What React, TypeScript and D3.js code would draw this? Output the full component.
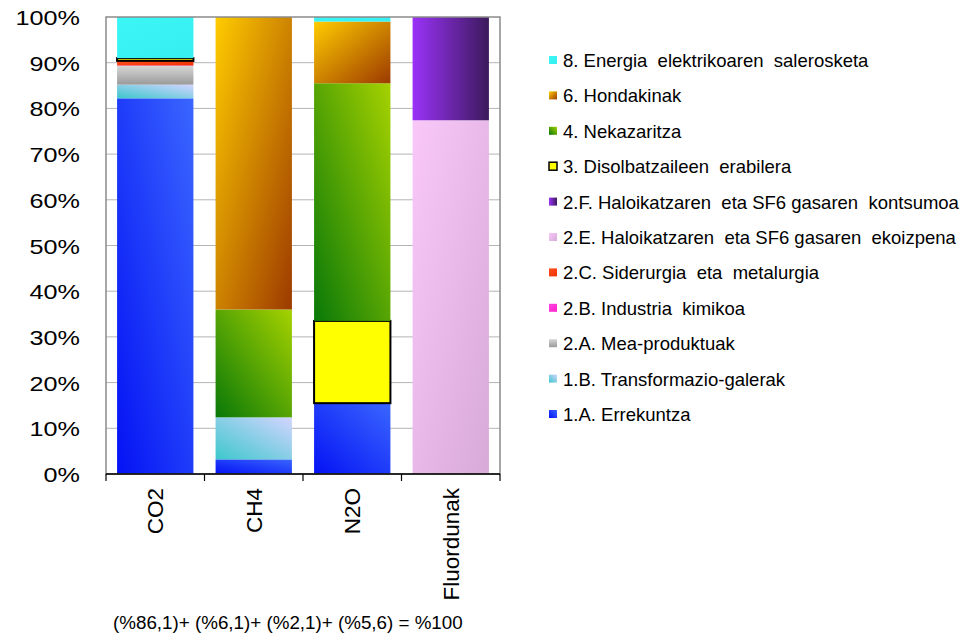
import React from "react";
import * as d3 from "d3";

const categories = ["CO2", "CH4", "N2O", "Fluordunak"];
const seriesKeys = ["1A", "1B", "2A", "2B", "2C", "2E", "2F", "3", "4", "6", "8"];
const seriesLabels = [
  "1.A. Errekuntza",
  "1.B. Transformazio-galerak",
  "2.A. Mea-produktuak",
  "2.B. Industria  kimikoa",
  "2.C. Siderurgia  eta  metalurgia",
  "2.E. Haloikatzaren  eta SF6 gasaren  ekoizpena",
  "2.F. Haloikatzaren  eta SF6 gasaren  kontsumoa",
  "3. Disolbatzaileen  erabilera",
  "4. Nekazaritza",
  "6. Hondakinak",
  "8. Energia  elektrikoaren  salerosketa",
];
// values in % per category (CO2, CH4, N2O, Fluordunak)
const v1A = [82.2, 3.2, 15.5, 0];
const v1B = [3.0, 9.2, 0, 0];
const v2A = [4.1, 0, 0, 0];
const v2B = [0.1, 0, 0, 0];
const v2C = [1.0, 0, 0, 0];
const v2E = [0, 0, 0, 77.4];
const v2F = [0, 0, 0, 22.6];
const v3 = [0.6, 0, 18.0, 0];
const v4 = [0, 23.6, 52.0, 0];
const v6 = [0, 64.0, 13.5, 0];
const v8 = [9.0, 0, 1.0, 0];
const yTicks = [0, 10, 20, 30, 40, 50, 60, 70, 80, 90, 100];
const footnote = "(%86,1)+ (%6,1)+ (%2,1)+ (%5,6) = %100";

const seriesValues = [v1A, v1B, v2A, v2B, v2C, v2E, v2F, v3, v4, v6, v8];

// gradient definitions: [x1,y1,x2,y2, colorStart, colorEnd]
const fills: Record<string, [number, number, number, number, string, string]> = {
  "1A": [0, 1, 1, 0, "#0412f4", "#3a66ff"],
  "1B": [0, 1, 1, 0, "#3cc8cc", "#d4d4ff"],
  "2A": [0, 0, 0, 1, "#d6d6d6", "#9a9a9a"],
  "2B": [0, 0, 1, 1, "#ff44e0", "#ff22cc"],
  "2C": [0, 0, 1, 1, "#ff5020", "#f03000"],
  "2E": [0, 0, 1, 1, "#f9c8f9", "#d8aad8"],
  "2F": [0, 0, 1, 0, "#9a32f8", "#3c1a5c"],
  "3": [0, 0, 1, 1, "#ffff00", "#ffff00"],
  "4": [0, 1, 1, 0, "#087808", "#a6d200"],
  "6": [0, 0, 1, 1, "#ffcc00", "#9c3a00"],
  "8": [0, 0, 1, 1, "#3cf6f6", "#36eef0"],
};

export default function App() {
  const W = 974, H = 640;
  const left = 106, right = 500, top = 17, bottom = 474;

  const data = categories.map((c, i) => {
    const row: any = { cat: c };
    seriesKeys.forEach((k, j) => (row[k] = seriesValues[j][i]));
    return row;
  });
  const stacked = d3.stack().keys(seriesKeys)(data as any);

  const x = d3.scaleBand().domain(categories).range([left, right]).paddingInner(0.225).paddingOuter(0.1125);
  const y = d3.scaleLinear().domain([0, 100]).range([bottom, top]);
  const step = x.step();
  const bounds = categories.map((_, i) => left + i * step).concat([right]);

  const legendOrder = [...seriesKeys].reverse();

  return (
    <svg width={W} height={H} style={{ position: "absolute", left: 0, top: 0, background: "#fff" }}
      fontFamily="'Liberation Sans', Arial, sans-serif">
      <defs>
        {seriesKeys.map((k) => {
          const [x1, y1, x2, y2, c1, c2] = fills[k];
          return (
            <linearGradient key={k} id={"g" + k} x1={x1} y1={y1} x2={x2} y2={y2}>
              <stop offset="0%" stopColor={c1} />
              <stop offset="100%" stopColor={c2} />
            </linearGradient>
          );
        })}
      </defs>

      {/* gridlines */}
      {yTicks.slice(1, -1).map((t) => (
        <line key={t} x1={left} x2={right} y1={y(t)} y2={y(t)} stroke="#b4b4b4" strokeWidth={1} />
      ))}

      {/* bars */}
      {stacked.map((s: any) =>
        s.map((d: any, i: number) => {
          const h = y(d[0]) - y(d[1]);
          if (h <= 0) return null;
          const cat = categories[i];
          const isOutlined = s.key === "3";
          return (
            <rect key={s.key + i} x={x(cat)} width={x.bandwidth()} y={y(d[1])} height={h}
              fill={`url(#g${s.key})`} stroke={isOutlined ? "#000" : "none"} strokeWidth={isOutlined ? 2 : 0} />
          );
        })
      )}

      {/* frame */}
      <rect x={left} y={top} width={right - left} height={bottom - top} fill="none" stroke="#8a8a8a" strokeWidth={1.5} />
      <line x1={left} x2={right} y1={bottom} y2={bottom} stroke="#000" strokeWidth={1.5} />
      {bounds.map((b, i) => (
        <line key={i} x1={b} x2={b} y1={bottom} y2={bottom + 7} stroke="#000" strokeWidth={1.2} />
      ))}

      {/* y labels */}
      {yTicks.map((t) => (
        <text key={t} transform={`translate(80,${y(t) + 8}) scale(1.2,1)`} textAnchor="end" fontSize={21} fill="#000">
          {t + "%"}
        </text>
      ))}

      {/* x labels */}
      {categories.map((c) => (
        <text key={c} transform={`translate(${(x(c) as number) + x.bandwidth() / 2 + 8},488) rotate(-90)`}
          textAnchor="end" fontSize={22.5} fill="#000">
          {c}
        </text>
      ))}

      {/* legend */}
      {legendOrder.map((k, i) => {
        const idx = seriesKeys.indexOf(k);
        const baseY = 67 + i * 35.4;
        return (
          <g key={k}>
            <rect x={549} y={baseY - 11} width={8} height={8} fill={`url(#g${k})`}
              stroke={k === "3" ? "#000" : "none"} strokeWidth={k === "3" ? 1.5 : 0} />
            <text x={563} y={baseY} fontSize={18.5} fill="#000" style={{ whiteSpace: "pre" }}>
              {seriesLabels[idx]}
            </text>
          </g>
        );
      })}

      {/* footnote */}
      <text x={113} y={629} fontSize={18.8} fill="#000" style={{ whiteSpace: "pre" }}>{footnote}</text>
    </svg>
  );
}
